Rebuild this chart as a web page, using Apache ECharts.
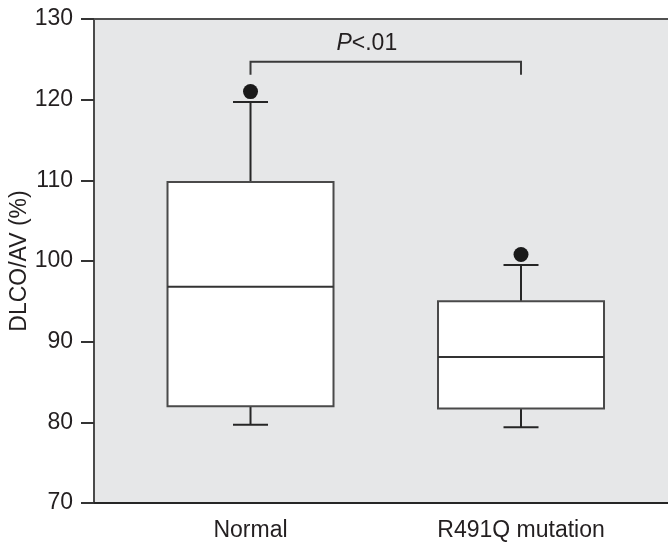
<!DOCTYPE html>
<html>
<head>
<meta charset="utf-8">
<script src="https://cdn.jsdelivr.net/npm/echarts@6/dist/echarts.min.js"></script>
<style>
  html, body { margin: 0; padding: 0; background: #fff; }
  #chart { width: 668px; height: 544px; }
</style>
</head>
<body>
<div id="chart"></div>
<script>
const groups = ['Normal', 'R491Q mutation']
// [min, Q1, median, Q3, max]
const normalBox = [79.7, 82.0, 96.8, 109.8, 119.7]
const mutationBox = [79.4, 81.7, 88.1, 95.0, 99.5]
const outliers = [[1, 121.0], [2, 100.8]]
const bracketX = [1, 2]
const bracketY = [123.1, 124.7] // foot, top
const yTicks = [70, 80, 90, 100, 110, 120, 130]

const FONT = '"Liberation Sans", Arial, Helvetica, sans-serif'
const FS = 23
const textColor = '#231f20'

function renderBox(params, api) {
  const x = api.value(0)
  const cx = api.coord([x, api.value(1)])[0]
  const yMin = api.coord([x, api.value(1)])[1]
  const yQ1 = api.coord([x, api.value(2)])[1]
  const yMed = api.coord([x, api.value(3)])[1]
  const yQ3 = api.coord([x, api.value(4)])[1]
  const yMax = api.coord([x, api.value(5)])[1]
  const half = 83
  const cap = 17.5
  const ln = { stroke: '#262626', lineWidth: 2 }
  return {
    type: 'group',
    children: [
      { type: 'line', shape: { x1: cx, y1: yMax, x2: cx, y2: yQ3 }, style: ln },
      { type: 'line', shape: { x1: cx, y1: yQ1, x2: cx, y2: yMin }, style: ln },
      { type: 'line', shape: { x1: cx - cap, y1: yMax, x2: cx + cap, y2: yMax }, style: ln },
      { type: 'line', shape: { x1: cx - cap, y1: yMin, x2: cx + cap, y2: yMin }, style: ln },
      {
        type: 'rect',
        shape: { x: cx - half, y: yQ3, width: half * 2, height: yQ1 - yQ3 },
        style: { fill: '#fff', stroke: '#4a4a4a', lineWidth: 2 }
      },
      { type: 'line', shape: { x1: cx - half, y1: yMed, x2: cx + half, y2: yMed }, style: { stroke: '#333', lineWidth: 2 } }
    ]
  }
}

function renderBracket(params, api) {
  const p1 = api.coord([api.value(0), api.value(3)])
  const p2 = api.coord([api.value(1), api.value(3)])
  const foot1 = api.coord([api.value(0), api.value(2)])
  const foot2 = api.coord([api.value(1), api.value(2)])
  return {
    type: 'group',
    children: [
      {
        type: 'polyline',
        shape: { points: [foot1, p1, p2, foot2] },
        style: { fill: null, stroke: '#3a3a3a', lineWidth: 2 }
      },
      {
        type: 'text',
        x: p1[0] + (p2[0] - p1[0]) * 0.43,
        y: p1[1] - 7,
        style: {
          text: '{i|P}<.01',
          rich: { i: { fontStyle: 'italic', fontSize: FS, fontFamily: FONT, fill: textColor } },
          fontSize: FS,
          fontFamily: FONT,
          fill: textColor,
          align: 'center',
          verticalAlign: 'bottom'
        }
      }
    ]
  }
}

const chart = echarts.init(document.getElementById('chart'), null, { renderer: 'canvas' })

const xMin = 0.4214
const xMax = 2.5434

chart.setOption({
  animation: false,
  backgroundColor: '#fff',
  grid: {
    left: 94,
    right: 0,
    top: 19,
    bottom: 41,
    show: true,
    backgroundColor: '#e6e7e8',
    borderWidth: 0,
    containLabel: false,
    outerBoundsMode: 'none'
  },
  xAxis: [
    {
      type: 'value',
      min: xMin,
      max: xMax,
      axisLine: { show: true, lineStyle: { color: '#262626', width: 2 } },
      axisTick: { show: false },
      splitLine: { show: false },
      axisLabel: {
        customValues: [1, 2],
        formatter: v => groups[Math.round(v) - 1],
        fontSize: FS,
        fontFamily: FONT,
        color: textColor,
        margin: 16
      }
    },
    {
      type: 'value',
      position: 'top',
      min: xMin,
      max: xMax,
      axisLine: { show: true, lineStyle: { color: '#505050', width: 2 } },
      axisTick: { show: false },
      axisLabel: { show: false },
      splitLine: { show: false }
    }
  ],
  yAxis: {
    type: 'value',
    min: yTicks[0],
    max: yTicks[yTicks.length - 1],
    interval: 10,
    name: 'DLCO/AV (%)',
    nameLocation: 'middle',
    nameGap: 63,
    nameMoveOverlap: false,
    nameTextStyle: { fontSize: FS, fontFamily: FONT, color: textColor },
    axisLine: { show: true, lineStyle: { color: '#4a4a4a', width: 2 } },
    axisTick: { show: true, length: 13, lineStyle: { color: '#333', width: 2 } },
    splitLine: { show: false },
    axisLabel: { fontSize: FS, fontFamily: FONT, color: textColor, margin: 21 }
  },
  series: [
    {
      type: 'custom',
      name: 'box',
      renderItem: renderBox,
      encode: { x: 0, y: [1, 2, 3, 4, 5] },
      data: [[1, ...normalBox], [2, ...mutationBox]],
      z: 2
    },
    {
      type: 'scatter',
      name: 'outliers',
      data: outliers,
      symbolSize: 15,
      itemStyle: { color: '#1a1a1a', opacity: 1 },
      z: 3
    },
    {
      type: 'custom',
      name: 'bracket',
      renderItem: renderBracket,
      encode: { x: [0, 1], y: [2, 3] },
      data: [[bracketX[0], bracketX[1], bracketY[0], bracketY[1]]],
      z: 3
    }
  ]
})
</script>
</body>
</html>
